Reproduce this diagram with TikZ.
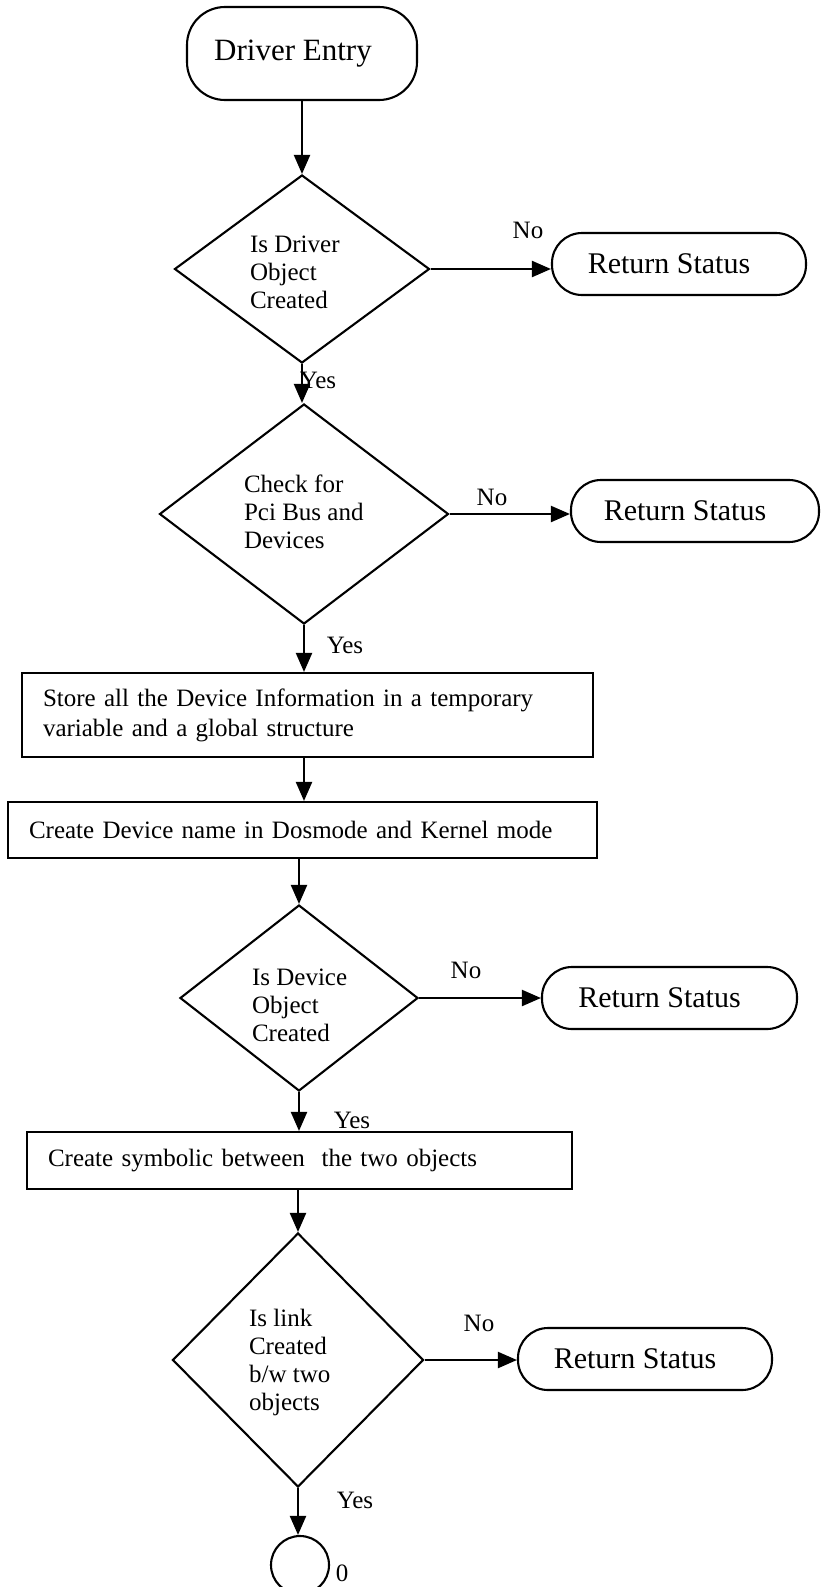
\documentclass[tikz,border=0pt]{standalone}
\usepackage{fontspec}
\setmainfont{Liberation Serif}
\usetikzlibrary{shapes.geometric,arrows.meta}
\begin{document}
\begin{tikzpicture}[x=1pt,y=-1pt,
  line width=2.1pt,
  terminal/.style={draw, rectangle, rounded corners=30pt, minimum width=#1,
    minimum height=62pt, inner sep=0pt, font=\fontsize{30}{33}\selectfont},
  decision/.style={draw, diamond, inner sep=0pt},
  dtext/.style={anchor=west, align=left, inner sep=0pt,
    font=\fontsize{25}{28}\selectfont},
  process/.style={draw, rectangle, inner xsep=21pt, inner ysep=0pt, align=left,
    font=\fontsize{25}{30}\selectfont},
  lbl/.style={inner sep=0pt, font=\fontsize{25}{28}\selectfont},
  flow/.style={-{Triangle[length=19pt,width=16pt]}}
]
\useasboundingbox (0,0) rectangle (821,1587);

% start terminal
\node[terminal=230, minimum height=93pt, rounded corners=38pt,
  font=\fontsize{31}{34}\selectfont] (start) at (302,53.5)
  {\hspace*{-18pt}Driver Entry};

% first decision
\node[decision, minimum width=255pt, minimum height=188pt] (d1) at (302,269) {};
\node[dtext] (d1t) at (249,272) {Is Driver\\Object\\Created};
\node[terminal=254] (r1) at (679,264) {\hspace*{-20pt}Return Status};
\node[lbl] (n1) at (528,230) {No};
\node[lbl] (y1) at (318,380) {Yes};

% second decision
\node[decision, minimum width=289pt, minimum height=220pt] (d2) at (304,514) {};
\node[dtext] (d2t) at (243,512) {Check for\\Pci Bus and\\Devices};
\node[terminal=248] (r2) at (695,511) {\hspace*{-20pt}Return Status};
\node[lbl] (n2) at (492,497) {No};
\node[lbl] (y2) at (345,645) {Yes};

% processing boxes
\node[process, text width=529pt, minimum height=84pt] (b1) at (307.5,715)
  {Store all the Device Information in a temporary\\variable and a global structure};
\node[process, text width=547pt, minimum height=56pt] (b2) at (302.5,830)
  {Create Device name in Dosmode and Kernel mode};

% third decision
\node[decision, minimum width=238pt, minimum height=186pt] (d3) at (299,998) {};
\node[dtext] (d3t) at (251,1005) {Is Device\\Object\\Created};
\node[terminal=255] (r3) at (669.5,998) {\hspace*{-20pt}Return Status};
\node[lbl] (n3) at (466,970) {No};
\node[lbl] (y3) at (352,1120) {Yes};

\node[process, text width=503pt, minimum height=57pt] (b3) at (299.5,1160.5)
  {Create symbolic between\ \ the two objects};

% fourth decision
\node[decision, minimum width=251pt, minimum height=254pt] (d4) at (298,1360) {};
\node[dtext] (d4t) at (248,1362) {Is link\\Created\\b/w two\\objects};
\node[terminal=254] (r4) at (645,1359) {\hspace*{-20pt}Return Status};
\node[lbl] (n4) at (479,1323) {No};
\node[lbl] (y4) at (355,1500) {Yes};

% off-page connector
\node[draw, circle, minimum size=58pt, inner sep=0pt] (c) at (300,1565) {};
\node[lbl] (z) at (342,1573) {0};

% connectors
\draw[flow] (start.south) -- (d1.north);
\draw[flow] (d1.east) -- (d1.east -| r1.west);
\draw[flow] (d1.south) -- (d1.south |- d2.north);
\draw[flow] (d2.east) -- (d2.east -| r2.west);
\draw[flow] (d2.south) -- (d2.south |- b1.north);
\draw[flow] (d2.south |- b1.south) -- (d2.south |- b2.north);
\draw[flow] (d3.north |- b2.south) -- (d3.north);
\draw[flow] (d3.east) -- (d3.east -| r3.west);
\draw[flow] (d3.south) -- (d3.south |- b3.north);
\draw[flow] (d4.north |- b3.south) -- (d4.north);
\draw[flow] (d4.east) -- (d4.east -| r4.west);
\draw[flow] (d4.south) -- (d4.south |- c.north);
\end{tikzpicture}
\end{document}
